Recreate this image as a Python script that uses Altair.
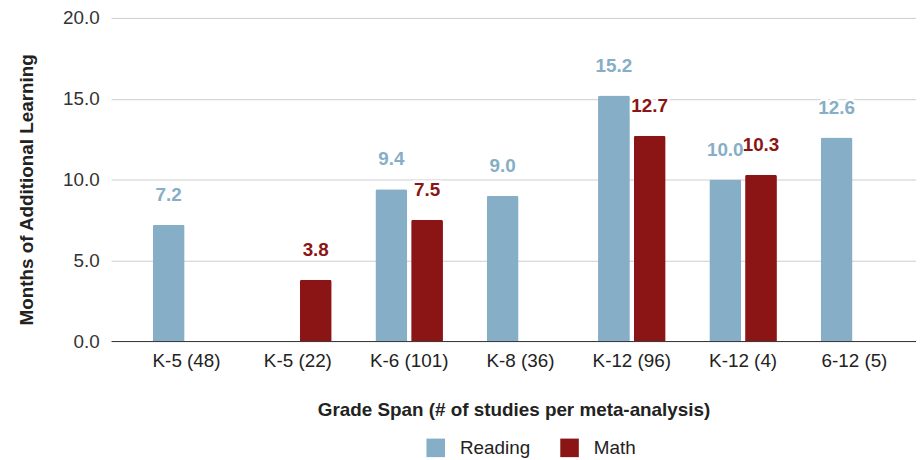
import altair as alt
import pandas as pd

categories = ["K-5 (48)", "K-5 (22)", "K-6 (101)", "K-8 (36)", "K-12 (96)", "K-12 (4)", "6-12 (5)"]
series = ["Reading", "Math"]
reading = [7.2, None, 9.4, 9.0, 15.2, 10.0, 12.6]
math = [None, 3.8, 7.5, None, 12.7, 10.3, None]
y_ticks = [0, 5, 10, 15, 20]
colors = ["#86aec6", "#8b1414"]

rows = []
for c, r, m in zip(categories, reading, math):
    if r is not None:
        rows.append({"span": c, "subject": "Reading", "value": r})
    if m is not None:
        rows.append({"span": c, "subject": "Math", "value": m})
df = pd.DataFrame(rows)

FONT = "Liberation Sans"

x = alt.X(
    "span:N", sort=categories,
    scale=alt.Scale(domain=categories, paddingInner=0.393, paddingOuter=0.312, align=0.6),
    axis=alt.Axis(title="Grade Span (# of studies per meta-analysis)", labelAngle=0, ticks=False,
                  domainColor="#333333", domainWidth=1, labelFontSize=19, labelColor="#222222",
                  labelPadding=11, titleFontSize=19, titleFontWeight="bold", titleColor="#222222",
                  titlePadding=30, grid=False),
)
xo = alt.XOffset("subject:N", scale=alt.Scale(domain=series, paddingInner=0.11, paddingOuter=0))
y = alt.Y(
    "value:Q", scale=alt.Scale(domain=[0, 20]),
    axis=alt.Axis(values=y_ticks, format=".1f", title="Months of Additional Learning", domain=False,
                  ticks=False, gridColor="#cccccc", labelFontSize=19, labelColor="#333333",
                  labelPadding=12, titleFontSize=19, titleFontWeight="bold", titleColor="#222222",
                  titlePadding=26, titleY=173),
)
legend = alt.Legend(title=None, orient="none", legendX=318, legendY=424, direction="horizontal",
                    symbolType="square", symbolSize=350, symbolStrokeWidth=0, labelFontSize=19,
                    labelColor="#222222", columnPadding=30, labelOffset=15, padding=0)
color = alt.Color("subject:N", scale=alt.Scale(domain=series, range=colors), legend=legend)

base = alt.Chart(df).encode(x=x, xOffset=xo, y=y)
bars = base.mark_bar(cornerRadiusTopLeft=2, cornerRadiusTopRight=2).encode(color=color)
halo = base.mark_text(dy=-30, fontSize=19, fontWeight="bold", fill="white", stroke="white",
                      strokeWidth=5, baseline="middle").encode(text=alt.Text("value:Q", format=".1f"))
labels = base.mark_text(dy=-30, fontSize=19, fontWeight="bold", baseline="middle").encode(
    text=alt.Text("value:Q", format=".1f"), color=color)

chart = alt.layer(bars, halo, labels).properties(
    width=812, height=326,
    autosize=alt.AutoSizeParams(type="none"),
    padding={"left": 104, "top": 8, "right": 0, "bottom": 118},
).configure_view(stroke=None).configure_axis(labelFont=FONT, titleFont=FONT).configure_legend(
    labelFont=FONT).configure_text(font=FONT)

chart.save("out.html", embed_options={"renderer": "svg", "actions": False})
